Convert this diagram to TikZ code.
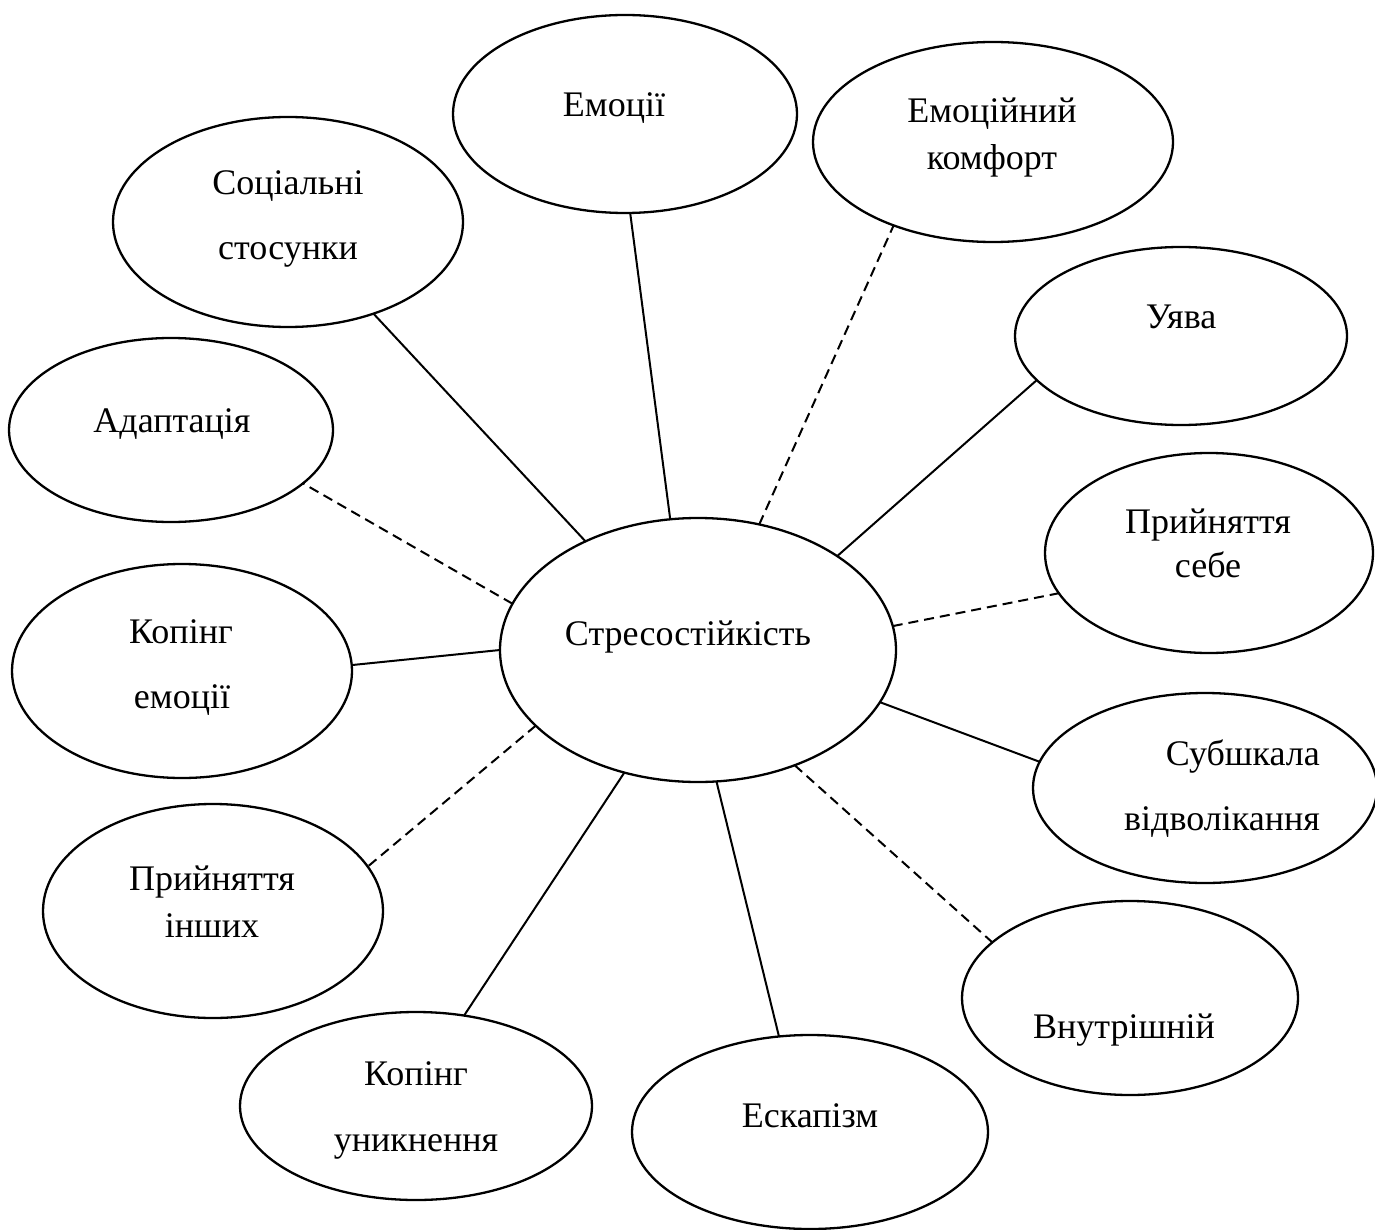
\documentclass[tikz,border=0pt]{standalone}
\usepackage{fontspec}
\setmainfont{Liberation Serif}
\usetikzlibrary{shapes.geometric}
\begin{document}
\begin{tikzpicture}[x=1pt,y=-1pt,
  bub/.style={draw, ellipse, line width=2.3pt, inner sep=0pt, outer sep=0pt},
  txt/.style={anchor=base, inner sep=0pt, font=\fontsize{36}{43}\selectfont},
  link/.style={line width=2pt},
  dlink/.style={line width=2pt, dash pattern=on 10pt off 6pt}]
\useasboundingbox (0,0) rectangle (1375,1230);

% ellipses
\node[bub, minimum width=396pt, minimum height=264pt] (c)  at (698,650) {};
\node[bub, minimum width=344pt, minimum height=198pt] (emo) at (625,114) {};
\node[bub, minimum width=360pt, minimum height=200pt] (ek)  at (993,142) {};
\node[bub, minimum width=350pt, minimum height=210pt] (soc) at (288,222) {};
\node[bub, minimum width=332pt, minimum height=178pt] (uya) at (1181,336) {};
\node[bub, minimum width=324pt, minimum height=184pt] (ada) at (171,430) {};
\node[bub, minimum width=328pt, minimum height=200pt] (ps)  at (1209,553) {};
\node[bub, minimum width=340pt, minimum height=214pt] (ke)  at (182,671) {};
\node[bub, minimum width=344pt, minimum height=190pt] (sub) at (1205,788) {};
\node[bub, minimum width=340pt, minimum height=214pt] (pi)  at (213,911) {};
\node[bub, minimum width=336pt, minimum height=194pt] (vn)  at (1130,998) {};
\node[bub, minimum width=352pt, minimum height=188pt] (ku)  at (416,1106) {};
\node[bub, minimum width=356pt, minimum height=194pt] (esk) at (810,1132) {};

% texts
\node[txt] (tc)   at (688,645)  {Стресостійкість};
\node[txt] (temo) at (614,117)  {Емоції};
\node[txt] (tek1) at (992,123)  {Емоційний};
\node[txt] (tek2) at (992,170)  {комфорт};
\node[txt] (tso1) at (288,195)  {Соціальні};
\node[txt] (tso2) at (288,260)  {стосунки};
\node[txt] (tuya) at (1181,328) {Уява};
\node[txt] (tada) at (172,432)  {Адаптація};
\node[txt] (tps1) at (1208,533) {Прийняття};
\node[txt] (tps2) at (1208,577) {себе};
\node[txt] (tke1) at (181,643)  {Копінг};
\node[txt] (tke2) at (182,708)  {емоції};
\node[txt, anchor=base east] (tsu1) at (1320,765) {Субшкала};
\node[txt, anchor=base east] (tsu2) at (1320,830) {відволікання};
\node[txt] (tpi1) at (212,890)  {Прийняття};
\node[txt] (tpi2) at (212,937)  {інших};
\node[txt] (tvn)  at (1124,1038) {Внутрішній};
\node[txt] (tku1) at (416,1085) {Копінг};
\node[txt] (tku2) at (416,1151) {уникнення};
\node[txt] (tesk) at (810,1127) {Ескапізм};

% connectors
\draw[link]  (c.136)   -- (soc.-47.3);
\draw[link]  (c.102.3) -- (emo.-87.2);
\draw[dlink] (c.64.4)  -- (ek.-140.8);
\draw[link]  (c.34)    -- (uya.-163.8);
\draw[dlink] (c.166.5) -- (ada.-22.9);
\draw[dlink] (c.7.7)   -- (ps.-165.9);
\draw[link]  (c.180)   -- (ke.2.3);
\draw[link]  (c.-16.9) -- (sub.171.2);
\draw[dlink] (c.-155.8) -- (pi.16.9);
\draw[dlink] (c.-50.9) -- (vn.158.5);
\draw[link]  (c.-121)  -- (ku.62.2);
\draw[link]  (c.-82.3) -- (esk.108.4);
\end{tikzpicture}
\end{document}
